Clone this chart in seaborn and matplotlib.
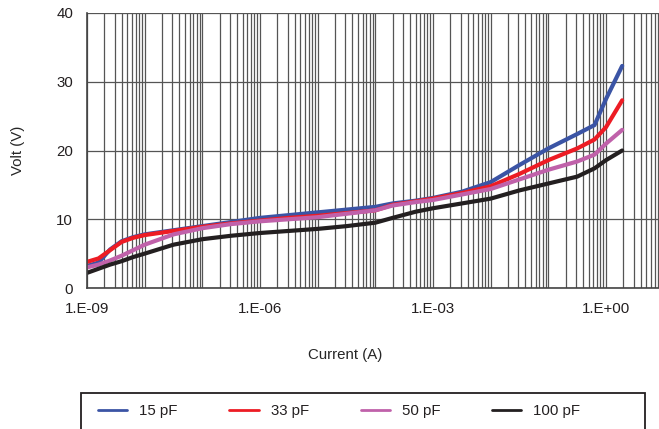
import numpy as np
import pandas as pd
import matplotlib
matplotlib.use("Agg")
import matplotlib.pyplot as plt
import matplotlib.ticker as mticker
from matplotlib.lines import Line2D
from matplotlib.patches import Rectangle
import seaborn as sns

# valores (exponente de la corriente, voltaje)
log_current = [-9, -8.8, -8.6, -8.4, -8.2, -8, -7.5, -7, -6.5, -6, -5.5, -5, -4.5,
               -4, -3.7, -3.3, -3, -2.5, -2, -1.5, -1, -0.5, -0.2, 0, 0.28]
volt_15pf = [3.2, 3.7, 5.6, 6.8, 7.4, 7.8, 8.4, 9.0, 9.6, 10.2, 10.6, 11.0, 11.4,
             11.8, 12.3, 12.7, 13.1, 14.0, 15.4, 17.9, 20.3, 22.4, 23.7, 27.5, 32.3]
volt_33pf = [3.8, 4.3, 5.5, 6.7, 7.3, 7.7, 8.3, 8.9, 9.4, 9.8, 10.2, 10.5, 10.9,
             11.3, 12.1, 12.6, 13.0, 13.8, 14.8, 16.6, 18.6, 20.3, 21.6, 23.4, 27.3]
volt_50pf = [3.0, 3.4, 4.0, 4.7, 5.5, 6.3, 7.8, 8.7, 9.3, 9.7, 10.0, 10.3, 10.8,
             11.3, 12.0, 12.5, 12.8, 13.6, 14.4, 15.8, 17.2, 18.4, 19.4, 21.0, 23.0]
volt_100pf = [2.2, 2.8, 3.4, 3.9, 4.5, 5.0, 6.3, 7.1, 7.6, 8.0, 8.3, 8.6, 9.0,
              9.5, 10.2, 11.1, 11.6, 12.3, 13.0, 14.2, 15.2, 16.2, 17.4, 18.6, 20.0]

series = ["15 pF", "33 pF", "50 pF", "100 pF"]
colores = ["#3B54A5", "#ED1C24", "#C061AA", "#231F20"]
x_labels_exp = [-9, -6, -3, 0]

current = [10 ** e for e in log_current]
df = pd.DataFrame({
    "Current": current * 4,
    "Volt": volt_15pf + volt_33pf + volt_50pf + volt_100pf,
    "serie": sum([[s] * len(current) for s in series], []),
})

sns.set_style("white")
plt.rcParams["font.family"] = ["Liberation Sans", "DejaVu Sans"]
plt.rcParams["text.color"] = "#231F20"
fs = 10.8

fig = plt.figure(figsize=(6.59, 4.29), dpi=100)
ax = fig.add_axes([87 / 659, 1 - 288 / 429, (663.7 - 87) / 659, (288 - 13) / 429])

for s, c in zip(series, colores):
    sns.lineplot(data=df[df["serie"] == s], x="Current", y="Volt", color=c,
                 linewidth=3, ax=ax, legend=False, sort=False)

ax.set_xscale("log")
ax.set_xlim(1e-9, 10)
ax.set_ylim(0, 40)

# ticks y rejilla
major = [10.0 ** e for e in x_labels_exp]
minor = [k * 10.0 ** e for e in range(-9, 1) for k in range(1, 10)
         if not (k == 1 and e in x_labels_exp)]
ax.xaxis.set_major_locator(mticker.FixedLocator(major))
ax.xaxis.set_minor_locator(mticker.FixedLocator(minor))
ax.xaxis.set_major_formatter(mticker.FuncFormatter(
    lambda v, p: "1.E%+03d" % int(round(np.log10(v)))))
ax.xaxis.set_minor_formatter(mticker.NullFormatter())
ax.set_yticks([0, 10, 20, 30, 40])

ax.grid(True, which="both", axis="x", color="#555555", linewidth=0.9)
ax.grid(True, which="major", axis="y", color="#555555", linewidth=0.9)
ax.tick_params(axis="x", which="major", length=5, width=1, color="#444444",
               labelsize=fs, labelcolor="#231F20", pad=5)
ax.tick_params(axis="x", which="minor", length=0)
ax.tick_params(axis="y", which="major", length=6, width=1, color="#444444",
               labelsize=fs, labelcolor="#231F20", pad=4)

for lado in ["top", "right"]:
    ax.spines[lado].set_visible(False)
for lado in ["left", "bottom"]:
    ax.spines[lado].set_color("#444444")
    ax.spines[lado].set_linewidth(1.2)

ax.set_xlabel("Current (A)", fontsize=fs)
ax.set_ylabel("Volt (V)", fontsize=fs)
ax.xaxis.set_label_coords((345 - 87) / 576.7, -(355 - 288) / 275)
ax.yaxis.set_label_coords(-(87 - 18) / 576.7, 0.5)
ax.xaxis.label.set_va("center")
ax.yaxis.label.set_va("center")

# leyenda con marco fijo
fig.patches.append(Rectangle((81 / 659, -0.02), (645 - 81) / 659, 1 - 393 / 429 + 0.02,
                             transform=fig.transFigure, fill=False,
                             edgecolor="#231F20", linewidth=1.3))
handles = [Line2D([], [], color=c, linewidth=2) for c in colores]
leg = fig.legend(handles, series, ncol=4, loc="center left",
                 bbox_to_anchor=(98 / 659, 1 - 411 / 429),
                 borderaxespad=0, borderpad=0, frameon=False, fontsize=fs,
                 handlelength=1.95, handletextpad=0.8, columnspacing=3.45)

fig.savefig("out.png", dpi=100)
